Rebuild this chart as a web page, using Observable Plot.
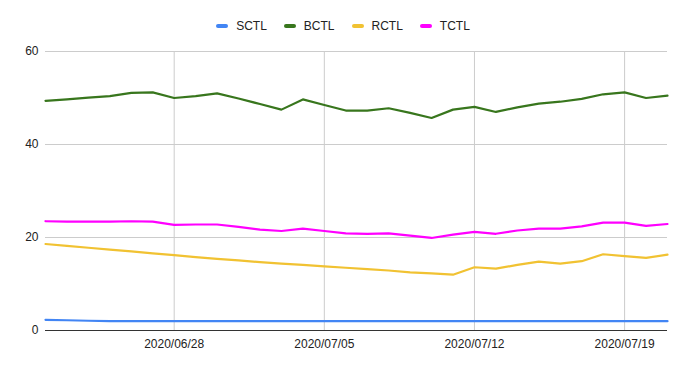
<!DOCTYPE html>
<html>
<head>
<meta charset="utf-8">
<script src="https://cdn.jsdelivr.net/npm/d3@7"></script>
<script src="https://cdn.jsdelivr.net/npm/@observablehq/plot@0.6"></script>
<style>
  html, body { margin: 0; padding: 0; background: #fff; }
  body { width: 686px; height: 369px; overflow: hidden; font-family: "Liberation Sans", Arial, sans-serif; }
  #legend { height: 40px; display: flex; justify-content: center; align-items: center; font-size: 12px; color: #222; padding-top: 11px; box-sizing: border-box; }
  .item { display: flex; align-items: center; margin: 0 8.5px; }
  .sw { width: 12px; height: 4px; border-radius: 2px; margin-right: 8px; }
</style>
</head>
<body>
<div id="legend"></div>
<div id="chart"></div>
<script>
const startDate = "2020-06-22";
const dayCount = 30;
const seriesNames = ["SCTL", "BCTL", "RCTL", "TCTL"];
const seriesColors = ["#4285F4", "#38761D", "#F1C232", "#FF00FF"];
const SCTL = [2.3, 2.2, 2.1, 2.0, 2.0, 2.0, 2.0, 2.0, 2.0, 2.0, 2.0, 2.0, 2.0, 2.0, 2.0, 2.0, 2.0, 2.0, 2.0, 2.0, 2.0, 2.0, 2.0, 2.0, 2.0, 2.0, 2.0, 2.0, 2.0, 2.0];
const BCTL = [49.4, 49.7, 50.1, 50.4, 51.1, 51.2, 50.0, 50.4, 51.0, 49.9, 48.7, 47.5, 49.7, 48.5, 47.3, 47.3, 47.8, 46.8, 45.7, 47.5, 48.1, 47.0, 48.0, 48.8, 49.2, 49.8, 50.8, 51.2, 50.0, 50.5];
const RCTL = [18.6, 18.2, 17.8, 17.4, 17.0, 16.6, 16.2, 15.8, 15.4, 15.1, 14.7, 14.4, 14.1, 13.8, 13.5, 13.2, 12.9, 12.5, 12.3, 12.0, 13.6, 13.3, 14.1, 14.8, 14.4, 14.9, 16.4, 16.0, 15.6, 16.3];
const TCTL = [23.5, 23.4, 23.4, 23.4, 23.5, 23.4, 22.7, 22.8, 22.8, 22.3, 21.7, 21.4, 21.9, 21.4, 20.9, 20.8, 20.9, 20.4, 19.9, 20.6, 21.2, 20.8, 21.5, 21.9, 21.9, 22.4, 23.2, 23.2, 22.5, 22.9];
const xTicks = ["2020-06-28", "2020-07-05", "2020-07-12", "2020-07-19"];
const yTicks = [0, 20, 40, 60];

const seriesValues = [SCTL, BCTL, RCTL, TCTL];
const t0 = new Date(startDate + "T00:00:00Z");
const dates = d3.range(dayCount).map(i => d3.utcDay.offset(t0, i));
const data = [];
seriesNames.forEach((name, s) => {
  seriesValues[s].forEach((v, i) => data.push({series: name, date: dates[i], value: v}));
});
const xTickDates = xTicks.map(d => new Date(d + "T00:00:00Z"));
const fmt = d3.utcFormat("%Y/%m/%d");

// legend
const legend = document.getElementById("legend");
seriesNames.forEach((n, i) => {
  const it = document.createElement("div");
  it.className = "item";
  it.innerHTML = `<span class="sw" style="background:${seriesColors[i]}"></span><span>${n}</span>`;
  legend.appendChild(it);
});

const chart = Plot.plot({
  width: 686,
  height: 329,
  marginTop: 11,
  marginBottom: 39,
  marginLeft: 45,
  marginRight: 19,
  style: {fontFamily: "'Liberation Sans', Arial, sans-serif", fontSize: "12px", color: "#222", background: "#fff"},
  x: {type: "utc", domain: [dates[0], dates[dates.length - 1]], ticks: xTickDates, tickFormat: fmt, tickSize: 0, tickPadding: 9, label: null},
  y: {domain: [0, 60], ticks: yTicks, tickSize: 0, tickPadding: 7, label: null},
  color: {domain: seriesNames, range: seriesColors},
  marks: [
    Plot.gridX(xTickDates, {stroke: "#cccccc", strokeOpacity: 1}),
    Plot.gridY(yTicks.filter(d => d > 0), {stroke: "#cccccc", strokeOpacity: 1}),
    Plot.axisX({ticks: xTickDates, tickFormat: fmt, tickSize: 0, tickPadding: 9, fill: "#222"}),
    Plot.axisY({ticks: yTicks, tickSize: 0, tickPadding: 7, fill: "#222"}),
    Plot.lineY(data, {x: "date", y: "value", stroke: "series", z: "series", strokeWidth: 2.2, strokeLinejoin: "round"}),
    Plot.ruleY([0], {stroke: "#333", strokeWidth: 1})
  ]
});
document.getElementById("chart").appendChild(chart);
</script>
</body>
</html>
